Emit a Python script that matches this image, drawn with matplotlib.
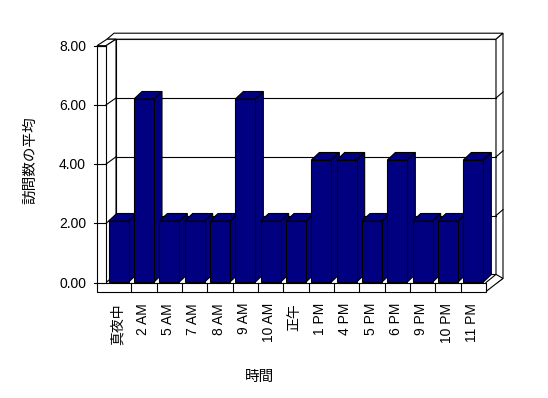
import matplotlib
matplotlib.use("Agg")
import matplotlib.pyplot as plt
from matplotlib.patches import Polygon

plt.rcParams['font.family'] = ['Liberation Sans', 'Noto Sans CJK JP', 'DejaVu Sans']

categories = ["真夜中", "2 AM", "5 AM", "7 AM", "8 AM", "9 AM", "10 AM", "正午",
              "1 PM", "4 PM", "5 PM", "6 PM", "9 PM", "10 PM", "11 PM"]
values = [2, 6, 2, 2, 2, 6, 2, 2, 4, 4, 2, 4, 2, 2, 4]
y_ticks = [0, 2, 4, 6, 8]
y_tick_labels = ["0.00", "2.00", "4.00", "6.00", "8.00"]
y_title = "訪問数の平均"
x_title = "時間"

W, H = 548, 398
BAR_COLOR = "#000080"
LW = 0.8

fig = plt.figure(figsize=(W / 100, H / 100), dpi=100)
fig.patch.set_facecolor("white")

# ---- frame axes in pixel space (decoration: walls / floor) ----
ax = fig.add_axes([0, 0, 1, 1])
ax.set_xlim(0, W)
ax.set_ylim(H, 0)
ax.axis("off")

# frame geometry
XL_OUT, XL_IN = 97, 106          # left wall front face
X_RIGHT = 486                    # floor front right
DX, DY = 10, -8.2                # depth of plot box
TX, TY = 7, -6                   # back wall thickness
FLOOR_T = 9
Y0_FRONT, SC_FRONT = 282.5, 29.6
Y0_BACK, SC_BACK = 274.4, 29.4
VMAX = 8

def yf(v):
    return Y0_FRONT - SC_FRONT * v

def yb(v):
    return Y0_BACK - SC_BACK * v

def poly(axis, pts, fc="white", z=1):
    axis.add_patch(Polygon(pts, closed=True, facecolor=fc, edgecolor="black",
                           linewidth=LW, zorder=z, joinstyle="miter"))

ytop_f = yf(VMAX)
ybot_f = yf(0)
# back wall (inner face) with thickness
xb_l, xb_r = XL_IN + DX, X_RIGHT + DX
poly(ax, [(xb_l, yb(VMAX)), (xb_r, yb(VMAX)), (xb_r, yb(0)), (xb_l, yb(0))])
# back wall top face
poly(ax, [(XL_OUT + DX, yb(VMAX)), (xb_r, yb(VMAX)), (xb_r + TX, yb(VMAX) + TY),
          (XL_OUT + DX + TX, yb(VMAX) + TY)])
# back wall right face
poly(ax, [(xb_r, yb(VMAX)), (xb_r + TX, yb(VMAX) + TY), (xb_r + TX, yb(0) + TY + FLOOR_T + 1),
          (xb_r, yb(0) + FLOOR_T)])
# floor right face
poly(ax, [(X_RIGHT, ybot_f), (xb_r, yb(0)), (xb_r + TX, yb(0) + TY + FLOOR_T + 1),
          (X_RIGHT, ybot_f + FLOOR_T)])
# left wall top face
poly(ax, [(XL_OUT, ytop_f), (XL_IN, ytop_f), (XL_IN + DX, yb(VMAX)), (XL_OUT + DX, yb(VMAX))])
# left wall inner face
poly(ax, [(XL_IN, ytop_f), (XL_IN + DX, yb(VMAX)), (XL_IN + DX, yb(0)), (XL_IN, ybot_f)])
# left wall front face + floor front face
poly(ax, [(XL_OUT, ytop_f), (XL_IN, ytop_f), (XL_IN, ybot_f), (X_RIGHT, ybot_f),
          (X_RIGHT, ybot_f + FLOOR_T), (XL_OUT, ybot_f + FLOOR_T)])

# gridlines and ticks
for v in y_ticks:
    if 0 < v < VMAX:
        ax.plot([xb_l, xb_r], [yb(v), yb(v)], color="black", lw=LW, zorder=2)
        ax.plot([XL_IN, xb_l], [yf(v), yb(v)], color="black", lw=LW, zorder=2)
        ax.plot([xb_r, xb_r + TX], [yb(v), yb(v) + TY], color="black", lw=LW, zorder=2)
    ax.plot([XL_OUT - 3, XL_IN], [yf(v), yf(v)], color="black", lw=LW, zorder=2)

# floor front face category dividers
n = len(categories)
cat_w = (X_RIGHT - XL_IN) / n
for k in range(1, n):
    xk = XL_IN + cat_w * k
    ax.plot([xk, xk], [ybot_f, ybot_f + FLOOR_T], color="black", lw=LW, zorder=2)

# y tick labels
for v, lab in zip(y_ticks, y_tick_labels):
    ax.text(86, yf(v) + 1, lab, ha="right", va="center", fontsize=10)

# axis titles
ax.text(30, 160, y_title, rotation=90, ha="center", va="center", fontsize=10.5)
ax.text(260, 377, x_title, ha="center", va="center", fontsize=10.5)

# ---- bar axes in data space ----
cx0 = XL_IN + cat_w * 0.5        # pixel x of category 0 centre
bar_y0, bar_sc = 282.0, 30.5
axb = fig.add_axes([0, 0, 1, 1])
axb.patch.set_alpha(0)
axb.axis("off")
axb.set_xlim(-cx0 / cat_w, (W - cx0) / cat_w)
axb.set_ylim((bar_y0 - H) / bar_sc, bar_y0 / bar_sc)

bw = 20 / cat_w
ddx, ddy = 8 / cat_w, 7.5 / bar_sc
for k, v in enumerate(values):
    x0 = k - bw / 2
    x1 = k + bw / 2
    poly(axb, [(x1, 0), (x1 + ddx, ddy), (x1 + ddx, v + ddy), (x1, v)], fc=BAR_COLOR, z=3 + k)
    poly(axb, [(x0, v), (x1, v), (x1 + ddx, v + ddy), (x0 + ddx, v + ddy)], fc=BAR_COLOR, z=3 + k)
    poly(axb, [(x0, 0), (x1, 0), (x1, v), (x0, v)], fc=BAR_COLOR, z=3 + k)

# category labels
for k, lab in enumerate(categories):
    axb.text(k - 0.05, (bar_y0 - 303) / bar_sc, lab, rotation=90, ha="center", va="top",
             fontsize=10)

fig.savefig("out.png", dpi=100)
